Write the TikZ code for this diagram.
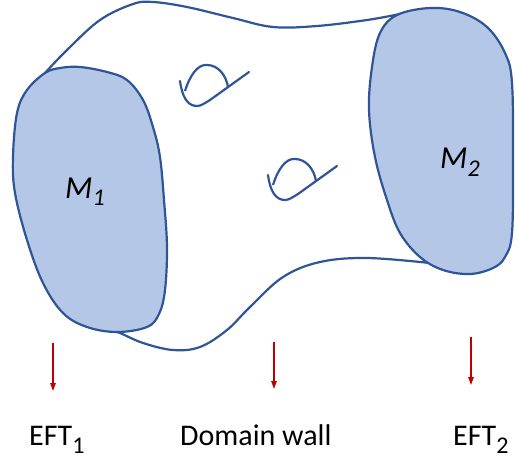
\documentclass[tikz,border=0pt]{standalone}
\usepackage{fontspec}
\setmainfont{Carlito}
\usetikzlibrary{arrows.meta}
\definecolor{edgeblue}{HTML}{2F5597}
\definecolor{fillblue}{HTML}{B4C7E7}
\definecolor{arrred}{HTML}{C00000}
\tikzset{
  outline/.style={draw=edgeblue, line width=2.2pt, line join=round},
  blob/.style={outline, fill=fillblue},
  downarrow/.style={draw=arrred, line width=1.4pt, -{Triangle[length=8pt,width=5.5pt]}},
  lab/.style={inner sep=0pt, font=\fontsize{30}{36}\selectfont},
  mlab/.style={inner sep=0pt, font=\fontsize{32}{38}\selectfont\itshape},
  loopglyph/.pic={
    \draw[outline] (5,10) .. controls (10,-6) and (18,-17) .. (27,-16)
                          .. controls (38,-16) and (46,-6) .. (48,6);
    \draw[outline, line cap=round] (0,0) .. controls (2,15) and (7,25) .. (17,25)
                          .. controls (21,25) and (25,22) .. (30,19) -- (69,-9);
  }
}
\begin{document}
\begin{tikzpicture}[x=1pt,y=-1pt]
\useasboundingbox (0,0) rectangle (515,459);
% surface of the domain wall
\draw[outline] plot[smooth, tension=0.6] coordinates {(45,73) (67,50) (100,20) (133,4) (153,2) (187,7) (233,18) (273,27) (317,26) (367,20) (400,14)};
\draw[outline] plot[smooth, tension=0.6] coordinates {(110,330) (120,333) (143,343) (173,350) (200,347) (227,330) (250,307) (283,277) (320,262) (367,258) (430,263)};
% boundaries
\path[blob] plot[smooth cycle, tension=0.6] coordinates {(45,73) (60,68) (80,67) (107,72) (127,80) (143,100) (153,127) (160,157) (164,200) (167,247) (165,290) (159,314) (147,327) (117,332) (87,327) (63,313) (43,283) (27,240) (15,193) (13,157) (17,113) (27,90)};
\path[blob] plot[smooth cycle, tension=0.6] coordinates {(397,15) (430,8) (460,12) (487,27) (505,53) (512,83) (513,160) (512,233) (505,257) (493,268) (470,274) (443,270) (420,257) (400,233) (387,200) (375,157) (369,110) (372,67) (380,33)};
\node[mlab, anchor=base west] (m1) at (65,198) {M\raisebox{-7pt}{\fontsize{24}{24}\selectfont 1}};
\node[mlab, anchor=base west] (m2) at (440,168) {M\raisebox{-8pt}{\fontsize{24}{24}\selectfont 2}};
% little loops
\pic (g1) at (180,81) {loopglyph};
\pic (g2) at (268,175) {loopglyph};
% arrows
\coordinate (a1s) at (53,343);
\coordinate (a1e) at (53,391);
\coordinate (a2s) at (274,342);
\coordinate (a2e) at (274,389);
\coordinate (a3s) at (471,337);
\coordinate (a3e) at (471,385);
\draw[downarrow] (a1s) -- (a1e);
\draw[downarrow] (a2s) -- (a2e);
\draw[downarrow] (a3s) -- (a3e);
% labels
\node[lab, anchor=base west] (eft1) at (29,445) {EFT\raisebox{-8pt}{\fontsize{24}{24}\selectfont 1}};
\node[lab, anchor=base west] (dw) at (180,445) {Domain wall};
\node[lab, anchor=base west] (eft2) at (453,445) {EFT\raisebox{-8pt}{\fontsize{24}{24}\selectfont 2}};
\end{tikzpicture}
\end{document}
